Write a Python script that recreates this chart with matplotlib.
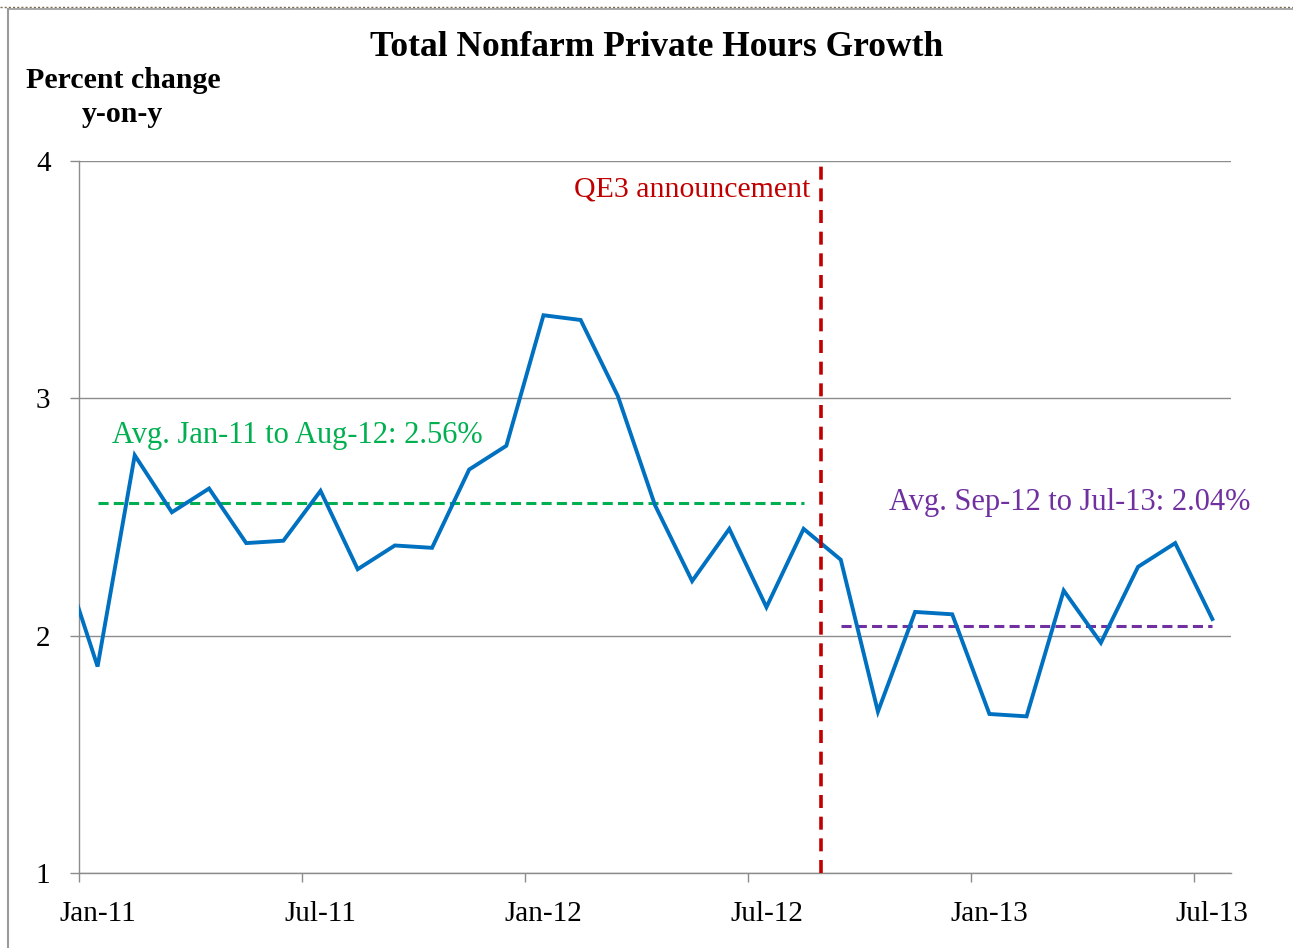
import numpy as np
import matplotlib
matplotlib.use("Agg")
import matplotlib.pyplot as plt
from matplotlib.lines import Line2D

# ---------------------------------------------------------------- data
# monthly y-on-y growth, Dec-10 .. Jul-13 (Dec-10 sits just off the left edge)
months = ["Dec-10",
          "Jan-11", "Feb-11", "Mar-11", "Apr-11", "May-11", "Jun-11",
          "Jul-11", "Aug-11", "Sep-11", "Oct-11", "Nov-11", "Dec-11",
          "Jan-12", "Feb-12", "Mar-12", "Apr-12", "May-12", "Jun-12",
          "Jul-12", "Aug-12", "Sep-12", "Oct-12", "Nov-12", "Dec-12",
          "Jan-13", "Feb-13", "Mar-13", "Apr-13", "May-13", "Jun-13",
          "Jul-13"]
hours_growth = [2.35,
                1.87, 2.76, 2.52, 2.62, 2.39, 2.40,
                2.61, 2.28, 2.38, 2.37, 2.70, 2.80,
                3.35, 3.33, 3.01, 2.55, 2.23, 2.45,
                2.12, 2.45, 2.32, 1.68, 2.10, 2.09,
                1.67, 1.66, 2.19, 1.97, 2.29, 2.39,
                2.07]
tick_labels = ["Jan-11", "Jul-11", "Jan-12", "Jul-12", "Jan-13", "Jul-13"]

avg_before = 2.56   # Jan-11 to Aug-12
avg_after = 2.04    # Sep-12 to Jul-13

# ---------------------------------------------------------------- styling
BLUE = "#0070C0"
GREEN = "#00B050"
PURPLE = "#7030A0"
RED = "#C00000"
GRID = "#8C8C8C"
SERIF = ["Liberation Serif", "DejaVu Serif"]

plt.rcParams["font.family"] = SERIF

fig = plt.figure(figsize=(12.93, 9.48), dpi=100)
ax = fig.add_axes([0.0611, 0.0791, 0.8909, 0.7511])

x = np.arange(len(months)) - 1  # Jan-11 -> 0
ax.plot(x, hours_growth, color=BLUE, lw=2.8, solid_joinstyle="miter", zorder=3)

i_jan11 = months.index("Jan-11") - 1
i_aug12 = months.index("Aug-12") - 1
i_sep12 = months.index("Sep-12") - 1
i_jul13 = months.index("Jul-13") - 1

ax.plot([i_jan11, i_aug12], [avg_before, avg_before], color=GREEN, lw=2.2,
        dashes=(3.3, 1.7), zorder=2)
ax.plot([i_sep12, i_jul13], [avg_after, avg_after], color=PURPLE, lw=2.2,
        dashes=(3.3, 1.7), zorder=2)

# QE3 announced mid-Sep 2012
qe3_x = i_aug12 + 0.47
ax.axvline(qe3_x, color=RED, lw=2.6, dashes=(3.6, 2.4), zorder=4)

ax.text(qe3_x - 0.3, 3.88, "QE3 announcement", color=RED, fontsize=21.5,
        ha="right", va="center")
ax.text(0.39, 2.845, "Avg. Jan-11 to Aug-12: 2.56%", color=GREEN, fontsize=22,
        ha="left", va="center")
ax.text(21.3, 2.559, "Avg. Sep-12 to Jul-13: 2.04%", color=PURPLE, fontsize=22,
        ha="left", va="center", clip_on=False)

# axes
ax.set_xlim(-0.5, 30.5)
ax.set_ylim(1, 4)
ax.set_yticks([1, 2, 3, 4])
ax.set_yticklabels(["1", "2", "3", "4"])
ax.yaxis.grid(True, color=GRID, lw=1.0)
ax.set_axisbelow(True)

ax.set_xticks([0, 6, 12, 18, 24, 30])
ax.set_xticklabels(tick_labels)
ax.set_xticks(np.arange(-0.5, 31, 6), minor=True)
ax.tick_params(axis="x", which="major", length=0, pad=20, labelsize=21)
ax.tick_params(axis="x", which="minor", length=6.5, color=GRID, width=1.0,
               direction="out")
ax.tick_params(axis="y", length=6.5, color=GRID, width=1.0, pad=14,
               labelsize=21)

for side in ["top", "right"]:
    ax.spines[side].set_visible(False)
for side in ["left", "bottom"]:
    ax.spines[side].set_color(GRID)
    ax.spines[side].set_linewidth(1.0)

# titles
fig.text(0.508, 0.950, "Total Nonfarm Private Hours Growth", fontsize=25.5,
         fontweight="bold", ha="center", va="center")
fig.text(0.095, 0.9156, "Percent change", fontsize=21.5, fontweight="bold",
         ha="center", va="center")
fig.text(0.095, 0.8787, "y-on-y", fontsize=21.5, fontweight="bold",
         ha="center", va="center")

# frame bits at the image edge
fig.add_artist(Line2D([0, 1], [1 - 6.5 / 948] * 2, transform=fig.transFigure,
                      color="#7A6A50", lw=1.0, ls=(0, (1.5, 1.5))))
fig.add_artist(Line2D([0.0066, 1], [1 - 9 / 948] * 2, transform=fig.transFigure,
                      color="#9A9A9A", lw=1.2))
fig.add_artist(Line2D([8 / 1293] * 2, [0, 1 - 9 / 948], transform=fig.transFigure,
                      color="#9A9A9A", lw=1.5))

fig.savefig("out.png", dpi=100)
